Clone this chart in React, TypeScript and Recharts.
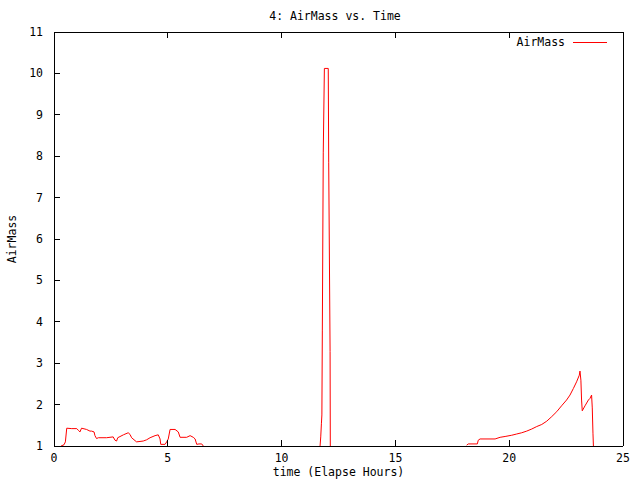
import { LineChart, Line, XAxis, YAxis, Legend } from 'recharts'

// elapsed hours and air mass (null = gap in the data)
const hours = [
  0.31, 0.44, 0.5, 0.56, 0.78, 1.0, 1.07, 1.14, 1.21, 1.43, 1.58, 1.65, 1.76, 1.8, 1.87, 1.95,
  2.31, 2.6, 2.68, 2.75, 2.8, 3.05, 3.26, 3.34, 3.41, 3.56, 3.63, 3.92, 4.07, 4.22, 4.44, 4.58,
  4.66, 4.69, 4.88, 4.95, 5.02, 5.1, 5.32, 5.46, 5.54, 5.83, 5.98, 6.12, 6.2, 6.27, 6.37, 6.49,
  6.56,
  9.0,
  11.69, 11.72, 11.75, 11.77, 11.79, 11.83, 11.88, 12.05, 12.07, 12.13, 12.14,
  15.0,
  18.13, 18.2, 18.6, 18.64, 18.72, 19.38, 19.6, 19.82, 20.11, 20.33, 20.55, 20.77, 20.99, 21.21,
  21.43, 21.65, 21.87, 22.09, 22.3, 22.52, 22.67, 22.82, 22.96, 23.08, 23.11, 23.15, 23.18,
  23.21, 23.33, 23.48, 23.55, 23.62, 23.65, 23.68, 23.7,
]

const airMass = [
  1.0, 1.03, 1.1, 1.43, 1.42, 1.42, 1.38, 1.34, 1.43, 1.4, 1.36, 1.36, 1.34, 1.25, 1.18, 1.2,
  1.2, 1.22, 1.14, 1.12, 1.2, 1.27, 1.32, 1.28, 1.2, 1.13, 1.1, 1.12, 1.15, 1.2, 1.25, 1.27,
  1.17, 1.04, 1.04, 1.1, 1.17, 1.4, 1.4, 1.34, 1.21, 1.21, 1.25, 1.21, 1.17, 1.04, 1.05, 1.05,
  1.0,
  null,
  1.0, 1.22, 1.55, 1.75, 3.8, 8.08, 10.12, 10.12, 7.84, 3.28, 1.0,
  null,
  1.02, 1.05, 1.05, 1.14, 1.17, 1.17, 1.21, 1.23, 1.26, 1.29, 1.32, 1.36, 1.41, 1.47,
  1.52, 1.6, 1.71, 1.83, 1.97, 2.11, 2.23, 2.39, 2.55, 2.71, 2.81, 2.59, 2.11,
  1.85, 1.97, 2.11, 2.15, 2.23, 1.92, 1.31, 1.0,
]

const xTicks = [0, 5, 10, 15, 20, 25]
const yTicks = [1, 2, 3, 4, 5, 6, 7, 8, 9, 10, 11]

const data = hours.map((t, i) => ({ t, v: airMass[i] }))

const W = 640
const H = 480
const MARGIN = { top: 31, right: 16, bottom: 14, left: 0 }

const FONT = '"DejaVu Sans Mono", monospace'
const FS = 11.5
// negative tick size = gnuplot-style ticks pointing into the plot
const TICK_SIZE = -6
const axisStyle = { stroke: '#000', shapeRendering: 'crispEdges' }
const tickStyle = { stroke: '#000', shapeRendering: 'crispEdges' }

const LeftTick = (p: any) => (
  <text x={p.x - 11} y={p.y} dy={4} textAnchor="end" fontFamily={FONT} fontSize={FS} fill="#000">
    {p.payload.value}
  </text>
)

const BottomTick = (p: any) => (
  <text x={p.x} y={p.y + 8} dy="0.71em" textAnchor="middle" fontFamily={FONT} fontSize={FS} fill="#000">
    {p.payload.value}
  </text>
)

const NoLabel = () => <g />

const LegendBox = () => (
  <div style={{ display: 'flex', alignItems: 'center', fontFamily: FONT, fontSize: FS, color: '#000' }}>
    <span>AirMass</span>
    <span style={{ display: 'inline-block', width: 34, height: 0, borderTop: '1px solid #ff0000', marginLeft: 8 }} />
  </div>
)

export default function App() {
  return (
    <div style={{ position: 'absolute', left: 0, top: 0, width: W, height: H, background: '#fff' }}>
      <div
        style={{
          position: 'absolute',
          top: 9,
          left: 0,
          width: W,
          paddingLeft: 30,
          boxSizing: 'border-box',
          textAlign: 'center',
          fontFamily: FONT,
          fontSize: FS,
          color: '#000',
        }}
      >
        4: AirMass vs. Time
      </div>
      <LineChart width={W} height={H} data={data} margin={MARGIN}>
        <XAxis
          dataKey="t"
          type="number"
          domain={[0, 25]}
          ticks={xTicks}
          height={20}
          tickSize={TICK_SIZE}
          tickMargin={6}
          tickLine={tickStyle}
          tick={BottomTick}
          axisLine={axisStyle}
          interval={0}
          label={{
            content: ({ viewBox }: any) => (
              <text
                x={viewBox.x + viewBox.width / 2}
                y={viewBox.y + 30}
                textAnchor="middle"
                fontFamily={FONT}
                fontSize={FS}
                fill="#000"
              >
                time (Elapse Hours)
              </text>
            ),
          }}
        />
        <XAxis
          xAxisId="top"
          orientation="top"
          dataKey="t"
          type="number"
          domain={[0, 25]}
          ticks={xTicks}
          height={1}
          tickSize={TICK_SIZE}
          tickLine={tickStyle}
          tick={NoLabel}
          axisLine={axisStyle}
          interval={0}
        />
        <YAxis
          type="number"
          domain={[1, 11]}
          ticks={yTicks}
          width={54}
          tickSize={TICK_SIZE}
          tickMargin={6}
          tickLine={tickStyle}
          tick={LeftTick}
          axisLine={axisStyle}
          interval={0}
          label={{
            content: ({ viewBox }: any) => {
              const cx = viewBox.x + 12
              const cy = viewBox.y + viewBox.height / 2
              return (
                <text
                  x={cx}
                  y={cy}
                  transform={`rotate(-90 ${cx} ${cy})`}
                  textAnchor="middle"
                  dy={4}
                  fontFamily={FONT}
                  fontSize={FS}
                  fill="#000"
                >
                  AirMass
                </text>
              )
            },
          }}
        />
        <YAxis
          yAxisId="right"
          orientation="right"
          type="number"
          domain={[1, 11]}
          ticks={yTicks}
          width={1}
          tickSize={TICK_SIZE}
          tickLine={tickStyle}
          tick={NoLabel}
          axisLine={axisStyle}
          interval={0}
        />
        <Legend
          layout="vertical"
          verticalAlign="middle"
          align="center"
          content={LegendBox}
          wrapperStyle={{ top: 35, right: 33, left: 'auto', width: 'auto', bottom: 'auto' }}
        />
        <Line
          type="linear"
          dataKey="v"
          stroke="#ff0000"
          strokeWidth={1}
          dot={false}
          activeDot={false}
          connectNulls={false}
          isAnimationActive={false}
          legendType="line"
        />
      </LineChart>
    </div>
  )
}
